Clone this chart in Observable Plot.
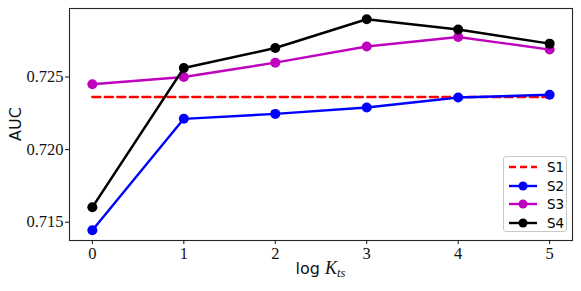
<!DOCTYPE html>
<html><head><meta charset="utf-8">
<script src="https://cdn.jsdelivr.net/npm/d3@7"></script>
<script src="https://cdn.jsdelivr.net/npm/@observablehq/plot@0.6"></script>
<style>
body{margin:0;background:#fff}
#wrap{position:relative;width:581px;height:291px}
#legend{position:absolute;left:503px;top:156px;width:64px;height:76px;border:1px solid #c8c8c8;border-radius:3px;background:rgba(255,255,255,0.85);font-family:"DejaVu Sans",sans-serif;font-size:13.5px;box-sizing:border-box}
.row{position:absolute;left:0;height:18px;display:flex;align-items:center}
.row svg{margin-left:4px}
.row span{margin-left:9px}
</style>
</head><body><div id="wrap"></div>
<script>
const logK = [0, 1, 2, 3, 4, 5];
const s1 = [0.72362, 0.72362, 0.72362, 0.72362, 0.72362, 0.72362];
const s2 = [0.71445, 0.72212, 0.72246, 0.72290, 0.72359, 0.72378];
const s3 = [0.72450, 0.72500, 0.72599, 0.72710, 0.72776, 0.72689];
const s4 = [0.71603, 0.72562, 0.72700, 0.72898, 0.72827, 0.72730];
const seriesNames = ["S1", "S2", "S3", "S4"];
const colors = ["#ff0000", "#0000ff", "#bf00bf", "#000000"];
const xTicks = [0, 1, 2, 3, 4, 5];
const yTicks = [0.715, 0.720, 0.725];

const rows = (vals, name) => logK.map((x, i) => ({x, y: vals[i], s: name}));
const data = [s1, s2, s3, s4].map((v, i) => rows(v, seriesNames[i]));

const marks = [
  Plot.line(data[0], {x: "x", y: "y", stroke: colors[0], strokeWidth: 2.4, strokeDasharray: "8,4.5"})
];
for (let i = 1; i < 4; i++) {
  marks.push(Plot.line(data[i], {x: "x", y: "y", stroke: colors[i], strokeWidth: 2.4}));
  marks.push(Plot.dot(data[i], {x: "x", y: "y", fill: colors[i], r: 5}));
}
marks.push(Plot.frame({stroke: "#262626", strokeWidth: 1.1}));
marks.push(Plot.axisX({ticks: xTicks, tickSize: 4, tickPadding: 3, label: null, tickFormat: d => String(d)}));
marks.push(Plot.axisY({ticks: yTicks, tickSize: 4, tickPadding: 2, label: null, tickFormat: d3.format(".3f")}));

const chart = Plot.plot({
  width: 581, height: 291,
  marginLeft: 69, marginRight: 9, marginTop: 8, marginBottom: 51,
  x: {domain: [-0.25, 5.25]},
  y: {domain: [0.71374, 0.72972]},
  style: {fontFamily: "'Liberation Serif', serif", fontSize: "16.5px", background: "white", color: "#111"},
  marks
});

const svg = d3.select(chart);
// x label
const xl = svg.append("text").attr("x", 320.5).attr("y", 274).attr("text-anchor", "middle").attr("fill", "#111");
xl.append("tspan").attr("font-family", "'DejaVu Sans', sans-serif").attr("font-size", 16).text("log ");
xl.append("tspan").attr("font-family", "'Liberation Serif', serif").attr("font-style", "italic").attr("font-size", 18).text("K");
xl.append("tspan").attr("font-family", "'Liberation Serif', serif").attr("font-style", "italic").attr("font-size", 12.5).attr("dy", 3).text("ts");
// y label
svg.append("text").attr("transform", "translate(21,124) rotate(-90)").attr("text-anchor", "middle")
  .attr("font-family", "'DejaVu Sans', sans-serif").attr("font-size", 16).attr("fill", "#111").text("AUC");

const wrap = document.getElementById("wrap");
wrap.appendChild(chart);

// legend
const lg = document.createElement("div");
lg.id = "legend";
seriesNames.forEach((name, i) => {
  const r = document.createElement("div");
  r.className = "row";
  r.style.top = (1 + i * 18.5) + "px";
  const dash = i === 0 ? 'stroke-dasharray="7,4"' : "";
  const dot = i === 0 ? "" : `<circle cx="15" cy="7" r="4.5" fill="${colors[i]}"/>`;
  r.innerHTML = `<svg width="30" height="14"><line x1="1" x2="29" y1="7" y2="7" stroke="${colors[i]}" stroke-width="2.4" ${dash}/>${dot}</svg><span>${name}</span>`;
  lg.appendChild(r);
});
wrap.appendChild(lg);
</script>
</body></html>
